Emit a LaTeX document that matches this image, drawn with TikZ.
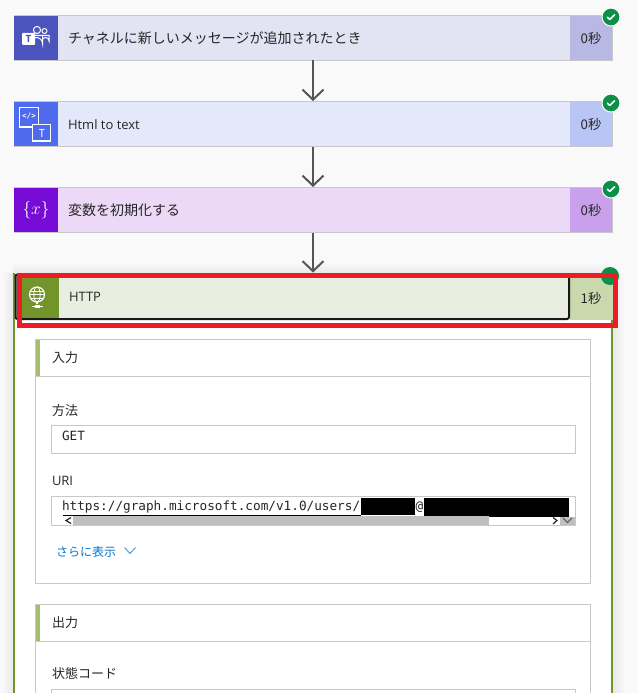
\documentclass[tikz,border=0pt]{standalone}
\usepackage{fontspec}
\setmainfont{Noto Sans CJK JP}
\newfontfamily\latinf{Open Sans}
\newfontfamily\monof{DejaVu Sans Mono}
\usetikzlibrary{arrows.meta,calc}
\definecolor{bgc}{HTML}{F9F9F9}
\definecolor{edgec}{HTML}{C8C8C8}
\definecolor{linkc}{HTML}{555555}
\definecolor{okc}{HTML}{0C8F46}
\definecolor{redc}{HTML}{ED1C24}
\definecolor{grn}{HTML}{71952A}
\definecolor{barc}{HTML}{A4BD6F}
\definecolor{sbc}{HTML}{BFBFBF}
\definecolor{aa}{HTML}{E3E4F3}\definecolor{ab}{HTML}{B7B8E3}\definecolor{ac}{HTML}{4B53BC}
\definecolor{ba}{HTML}{E3E8FB}\definecolor{bb}{HTML}{B8C5F5}\definecolor{bc}{HTML}{4F6BED}
\definecolor{ca}{HTML}{EBD9F7}\definecolor{cb}{HTML}{C9A0EC}\definecolor{cc}{HTML}{770BD6}
\definecolor{da}{HTML}{E8EFE0}\definecolor{db}{HTML}{C9D8AD}
\definecolor{bluec}{HTML}{0078D4}
\tikzset{
  x=1pt,y=-1pt,
  every node/.style={outer sep=0pt},
  cardbody/.style={draw=edgec,line width=1pt,minimum width=598pt,minimum height=45pt,anchor=north west,inner sep=0pt},
  cardicon/.style={minimum width=44pt,minimum height=44pt,anchor=north west,inner sep=0pt},
  cardtime/.style={minimum width=42pt,minimum height=44pt,anchor=north west,inner sep=0pt,font=\fontsize{13.3}{15}\selectfont,text=black!85},
  cardtext/.style={anchor=west,inner sep=0pt,font=\fontsize{14}{16}\selectfont,text=black!85},
  lattext/.style={anchor=west,inner sep=0pt,font=\latinf\fontsize{13}{15}\selectfont,text=black!85},
  flow/.style={draw=linkc,line width=2pt,-{Straight Barb[length=10pt,width=21pt,line width=2pt]},shorten >=0.5pt},
  okdot/.style={circle,fill=okc,draw=white,line width=1pt,minimum size=18pt,inner sep=0pt},
  okmark/.style={draw=white,line width=1.6pt,line cap=round,line join=round},
  seclabel/.style={anchor=west,inner sep=0pt,font=\fontsize{13}{15}\selectfont,text=black!85},
  fieldbox/.style={draw=edgec,line width=1pt,fill=white,anchor=north west,inner sep=0pt},
  monotext/.style={anchor=west,inner sep=0pt,font=\monof\fontsize{12.7}{15}\selectfont,text=black!85},
  ic/.style={draw=white,line width=1pt},
}
\begin{document}
\begin{tikzpicture}
\useasboundingbox (0,0) rectangle (638,693);
\fill[bgc] (0,0) rectangle (638,693);

% --- card 1
\node[cardbody,fill=aa] (c1) at (14,15.5) {};
\node[cardicon,fill=ac] (c1i) at (14,16) {};
\node[cardtime,fill=ab] (c1t) at (570,16) {0秒};
\node[cardtext] (c1x) at (68,38) {チャネルに新しいメッセージが追加されたとき};
% teams icon
\draw[ic,line width=1pt] (44.5,31) circle (2.5);
\draw[ic,line width=1pt] (37,30) circle (3.6);
\draw[ic,line width=1pt] (42,35.5) -- (49,35.5) -- (49,41) arc (0:-150:3.6);
\draw[ic,line width=1pt] (30,35.5) -- (42.5,35.5) -- (42.5,43.5) arc (0:-180:6.2 and 6);
\fill[white,rounded corners=1pt] (22,33) rectangle (35,45);
\node[inner sep=0pt,text=ac,font=\latinf\bfseries\fontsize{10}{10}\selectfont] (c1il) at (28.5,39) {T};

% --- card 2
\node[cardbody,fill=ba] (c2) at (14,101.5) {};
\node[cardicon,fill=bc] (c2i) at (14,102) {};
\node[cardtime,fill=bb] (c2t) at (570,102) {0秒};
\node[lattext] (c2x) at (68,124.5) {Html to text};
\draw[ic,line width=1.2pt] (32,127) -- (19.5,127) -- (19.5,107.5) -- (38.5,107.5) -- (38.5,124);
\node[inner sep=0pt,text=white,font=\monof\bfseries\fontsize{7.5}{8}\selectfont] (c2il) at (29,116) {</>};
\draw[ic,line width=1.2pt] (32.5,124.5) rectangle (50.5,141);
\node[inner sep=0pt,text=white,font=\fontsize{11}{11}\selectfont] (c2ir) at (41.8,133) {T};

% --- card 3
\node[cardbody,fill=ca] (c3) at (14,187.5) {};
\node[cardicon,fill=cc] (c3i) at (14,188) {};
\node[cardtime,fill=cb] (c3t) at (570,188) {0秒};
\node[cardtext] (c3x) at (68,210.5) {変数を初期化する};
\node[inner sep=0pt,text=white,font=\fontsize{19}{19}\selectfont] (c3il) at (36,210) {$\{x\}$};

% --- check badges
\foreach \n/\y in {a/17,b/103,c/189}{
  \node[okdot] (ok\n) at (611,\y) {};
  \draw[okmark] ($(ok\n)+(-3.6,0.3)$) -- ($(ok\n)+(-1.2,2.4)$) -- ($(ok\n)+(3.6,-2.2)$);
}

% --- HTTP card shadow + body
\shade[left color=bgc,right color=black!9] (2,273) rectangle (13,693);
\shade[left color=black!9,right color=bgc] (613,273) rectangle (624,693);
\shade[top color=bgc,bottom color=black!9] (13,263) rectangle (613,273);
\node[minimum width=598pt,minimum height=420pt,anchor=north west,inner sep=0pt,fill=white] (d) at (14,273) {};
\fill[grn] (13,273) rectangle (15,693);
\fill[grn] (611,273) rectangle (613,693);
\node[minimum width=43pt,minimum height=44pt,anchor=north west,inner sep=0pt,fill=db] (dt) at (569.5,276) {\fontsize{13.3}{15}\selectfont\color{black!85}1秒};
\draw[black!90,line width=2pt,fill=da,rounded corners=2pt] (15.5,274.5) rectangle (569,319);
\fill[grn] (16.5,276) rectangle (59,318);
\node[lattext] (dx) at (69,297) {HTTP};
% globe icon
\draw[ic,line width=1.1pt] (37,294.5) circle (7.5);
\draw[ic,line width=0.8pt] (37,294.5) ellipse (3.2 and 7.5);
\draw[ic,line width=0.8pt] (29.6,294.5) -- (44.4,294.5) (31,291) -- (43,291) (31,298) -- (43,298);
\draw[ic,line width=1.1pt] (37,302) -- (37,304);
\draw[ic,line width=1.2pt] (32,306.5) -- (43,306.5);
\fill[white] (34.5,304.5) rectangle (39.5,308);
\node[okdot,draw=none] (okd) at (610,276) {};

% --- connectors
\draw[flow] (c1.south -| 313,0) -- (c2.north -| 313,0);
\draw[flow] (c2.south -| 313,0) -- (c3.north -| 313,0);
\coordinate (dtop) at (313,273);
\draw[flow] (c3.south -| 313,0) -- (dtop);

% --- section: input
\node[draw=edgec,line width=1pt,fill=white,minimum width=555pt,minimum height=244pt,anchor=north west,inner sep=0pt] (s1) at (35.5,339.5) {};
\fill[barc] (36,340) rectangle (40,376);
\draw[edgec,line width=1pt] (36,376.5) -- (590.5,376.5);
\node[seclabel] (s1l) at (52,357.5) {入力};
\node[seclabel] (f1l) at (52,410.5) {方法};
\node[fieldbox,minimum width=523.5pt,minimum height=28pt] (f1) at (51.5,425.5) {};
\node[monotext] (f1v) at (62,436) {GET};
\node[seclabel,font=\latinf\fontsize{13}{15}\selectfont] (f2l) at (52,480.5) {URI};
\node[fieldbox,minimum width=523.5pt,minimum height=28.5pt] (f2) at (51.5,496.5) {};
\node[monotext] (f2v) at (62,507) {https://graph.microsoft.com/v1.0/users/};
\node[monotext] (f2at) at (415.5,507) {@};
\fill[black] (361,498) rectangle (415,515);
\fill[black] (424,498) rectangle (569,517);
\draw[black,line width=1pt] (63,515.5) -- (361,515.5);
\fill[sbc] (73,516) rectangle (489,525);
\fill[sbc] (560,517) rectangle (575,525);
\draw[black!85,line width=1.2pt] (71,517.5) -- (66,520.5) -- (71,523.5);
\draw[black!85,line width=1.2pt] (553,517.5) -- (557,520.5) -- (553,524);
\draw[black!60,line width=1.2pt] (563,518) -- (567.5,522.5) -- (572,518);
\node[seclabel,text=bluec,font=\fontsize{12}{15}\selectfont] (more) at (56,551.5) {さらに表示};
\draw[bluec!70,line width=1pt] (124.5,547.5) -- (130,553.5) -- (135.5,547.5);

% --- section: output
\node[draw=edgec,line width=1pt,fill=white,minimum width=555pt,minimum height=100pt,anchor=north west,inner sep=0pt] (s2) at (35.5,604.5) {};
\fill[barc] (36,605) rectangle (40,641);
\draw[edgec,line width=1pt] (36,641.5) -- (590.5,641.5);
\node[seclabel] (s2l) at (52,622.5) {出力};
\node[seclabel] (f3l) at (52,673.5) {状態コード};
\node[fieldbox,minimum width=523.5pt,minimum height=28pt] (f3) at (51.5,689.5) {};

% --- highlight
\node[draw=redc,line width=5pt,minimum width=596pt,minimum height=50pt,anchor=north west,inner sep=0pt] (hl) at (19.5,275.5) {};
\end{tikzpicture}
\end{document}
